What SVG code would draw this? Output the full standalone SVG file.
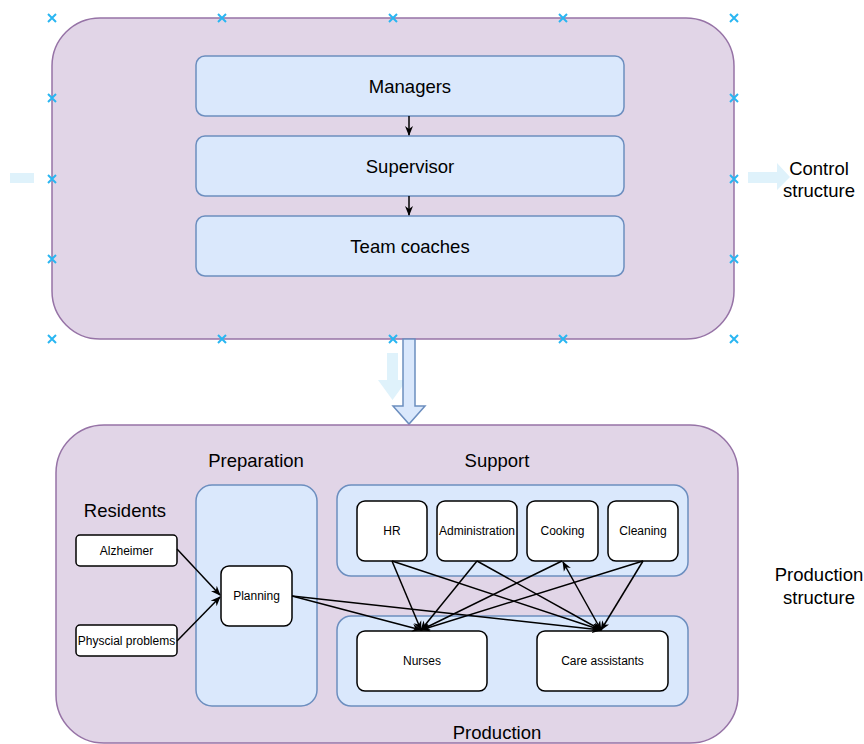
<svg xmlns="http://www.w3.org/2000/svg" width="864" height="744" viewBox="0 0 864 744">
<style>
.container{fill:#e1d5e7;stroke:#9673a6;stroke-width:1.5}
.blue{fill:#dae8fc;stroke:#6c8ebf;stroke-width:1.5}
.white{fill:#ffffff;stroke:#000000;stroke-width:1.5}
.big{font-family:"Liberation Sans",Arial,sans-serif;font-size:18.5px;fill:#000;text-anchor:middle}
.small{font-family:"Liberation Sans",Arial,sans-serif;font-size:12px;fill:#000;text-anchor:middle}
.edge{stroke:#000;stroke-width:1.5;fill:none;marker-end:url(#arr)}
.mark{stroke:#29b6f2;stroke-width:2;fill:none}
.ghost{fill:#dff2fb;stroke:none}
</style>
<defs>
<marker id="arr" markerWidth="10" markerHeight="10" viewBox="0 0 10 10" refX="9" refY="5" orient="auto" markerUnits="userSpaceOnUse">
<path d="M0,1 L10,5 L0,9 L3,5 Z" fill="#000"/>
</marker>
<marker id="arrs" markerWidth="10" markerHeight="10" viewBox="0 0 10 10" refX="1" refY="5" orient="auto" markerUnits="userSpaceOnUse">
<path d="M10,1 L0,5 L10,9 L7,5 Z" fill="#000"/>
</marker>
<path id="x" d="M-4,-4 L4,4 M-4,4 L4,-4"/>
</defs>

<g id="control-structure">
<rect class="container" x="52" y="18" width="682" height="321" rx="48" ry="48"/>
</g>
<g id="managers">
<rect class="blue" x="196" y="56" width="428" height="60" rx="9"/>
<text class="big" x="410" y="92.5">Managers</text>
</g>
<g id="supervisor">
<rect class="blue" x="196" y="136" width="428" height="60" rx="9"/>
<text class="big" x="410" y="172.5">Supervisor</text>
</g>
<g id="team-coaches">
<rect class="blue" x="196" y="216" width="428" height="60" rx="9"/>
<text class="big" x="410" y="252.5">Team coaches</text>
</g>

<g id="markers" class="mark">
<use href="#x" x="52" y="18"/><use href="#x" x="222" y="18"/><use href="#x" x="393" y="18"/><use href="#x" x="563" y="18"/><use href="#x" x="734" y="18"/>
<use href="#x" x="52" y="98"/><use href="#x" x="734" y="98"/>
<use href="#x" x="52" y="179"/><use href="#x" x="734" y="179"/>
<use href="#x" x="52" y="259"/><use href="#x" x="734" y="259"/>
<use href="#x" x="52" y="339"/><use href="#x" x="222" y="339"/><use href="#x" x="393" y="339"/><use href="#x" x="563" y="339"/><use href="#x" x="734" y="339"/>
</g>

<g id="ghosts">
<rect class="ghost" x="10" y="173" width="24" height="10"/>
<path class="ghost" d="M748,172 L777,172 L777,163 L790,177 L777,190 L777,183 L748,183 Z"/>
<path class="ghost" d="M387,353 L398,353 L398,380 L407,380 L392.5,400 L378,380 L387,380 Z"/>
</g>

<g id="control-label">
<text class="big" x="819" y="175">Control</text>
<text class="big" x="819" y="197">structure</text>
</g>

<g id="block-arrow">
<path class="blue" d="M403,339 L415,339 L415,406 L425,406 L409,424 L393,406 L403,406 Z"/>
</g>

<g id="production-structure">
<rect class="container" x="56" y="425" width="682" height="318" rx="48" ry="48"/>
<text class="big" x="256" y="466.5">Preparation</text>
<text class="big" x="497" y="466.5">Support</text>
<text class="big" x="125" y="516.5">Residents</text>
<text class="big" x="497" y="738.5">Production</text>
</g>
<g id="production-label">
<text class="big" x="819" y="581">Production</text>
<text class="big" x="819" y="604">structure</text>
</g>

<g id="preparation">
<rect class="blue" x="196" y="485" width="121" height="221" rx="16"/>
</g>
<g id="support">
<rect class="blue" x="337" y="485" width="351" height="91" rx="14"/>
</g>
<g id="production">
<rect class="blue" x="337" y="616" width="351" height="90" rx="14"/>
</g>

<g id="alzheimer">
<rect class="white" x="76" y="535" width="101" height="31" rx="4"/>
<text class="small" x="126.5" y="554.5">Alzheimer</text>
</g>
<g id="physcial-problems">
<rect class="white" x="76" y="625" width="101" height="31" rx="4"/>
<text class="small" x="126.5" y="644.5">Physcial problems</text>
</g>
<g id="planning">
<rect class="white" x="221" y="566" width="71" height="60" rx="8"/>
<text class="small" x="256.5" y="600">Planning</text>
</g>
<g id="hr">
<rect class="white" x="357" y="501" width="70" height="60" rx="8"/>
<text class="small" x="392" y="535">HR</text>
</g>
<g id="administration">
<rect class="white" x="437" y="501" width="80" height="60" rx="8"/>
<text class="small" x="477" y="535">Administration</text>
</g>
<g id="cooking">
<rect class="white" x="527" y="501" width="71" height="60" rx="8"/>
<text class="small" x="562.5" y="535">Cooking</text>
</g>
<g id="cleaning">
<rect class="white" x="608" y="501" width="70" height="60" rx="8"/>
<text class="small" x="643" y="535">Cleaning</text>
</g>
<g id="nurses">
<rect class="white" x="357" y="631" width="130" height="60" rx="8"/>
<text class="small" x="422" y="665">Nurses</text>
</g>
<g id="care-assistants">
<rect class="white" x="537" y="631" width="131" height="60" rx="8"/>
<text class="small" x="602.5" y="665">Care assistants</text>
</g>

<g id="connectors">
<line class="edge" x1="409" y1="116" x2="409" y2="135"/>
<line class="edge" x1="409" y1="196" x2="409" y2="215"/>
<line class="edge" x1="177" y1="549" x2="220" y2="595"/>
<line class="edge" x1="177" y1="641" x2="220" y2="597"/>
<line class="edge" x1="292" y1="596" x2="421" y2="630"/>
<line class="edge" x1="292" y1="596" x2="601" y2="630"/>
<line class="edge" x1="392" y1="561" x2="421" y2="630"/>
<line class="edge" x1="392" y1="561" x2="601" y2="630"/>
<line class="edge" x1="477" y1="561" x2="421" y2="630"/>
<line class="edge" x1="477" y1="561" x2="601" y2="630"/>
<line class="edge" x1="562" y1="561" x2="421" y2="630"/>
<line class="edge" x1="601" y1="630" x2="563" y2="562" style="marker-start:url(#arrs)"/>
<line class="edge" x1="643" y1="561" x2="421" y2="630"/>
<line class="edge" x1="643" y1="561" x2="601" y2="630"/>
</g>
</svg>
